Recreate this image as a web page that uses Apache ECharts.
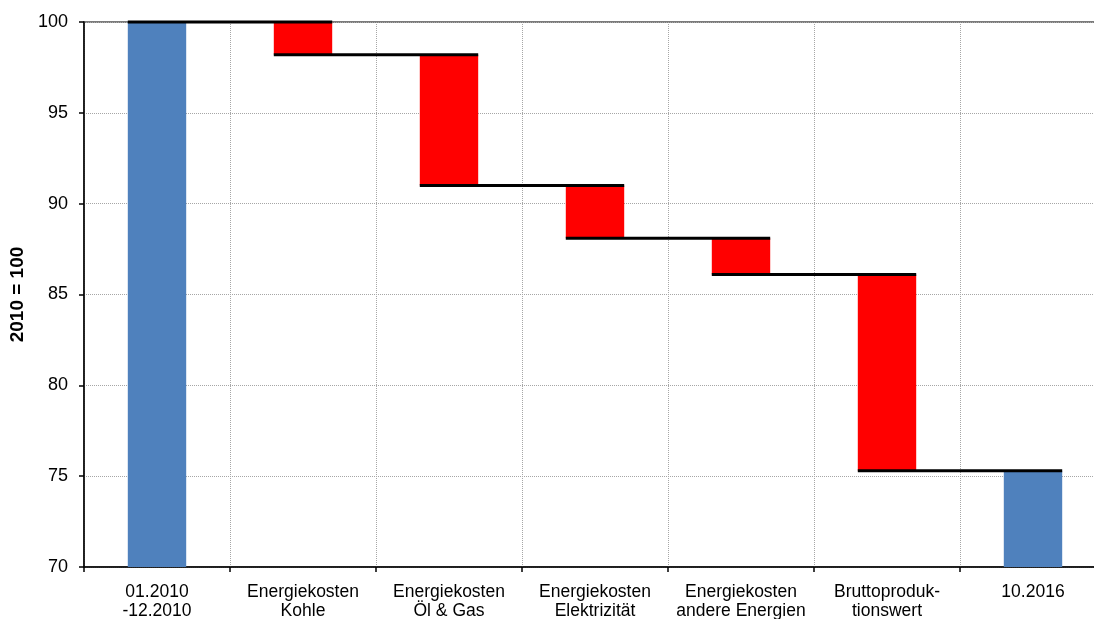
<!DOCTYPE html>
<html>
<head>
<meta charset="utf-8">
<script src="https://cdn.jsdelivr.net/npm/echarts@6/dist/echarts.min.js"></script>
<style>
  html, body { margin: 0; padding: 0; background: #fff; }
  #chart { width: 1094px; height: 619px; }
</style>
</head>
<body>
<div id="chart"></div>
<script>
// Waterfall: index 2010 = 100, contributions down to 10.2016
const categories = [
  '01.2010\n-12.2010',
  'Energiekosten\nKohle',
  'Energiekosten\nÖl & Gas',
  'Energiekosten\nElektrizität',
  'Energiekosten\nandere Energien',
  'Bruttoproduk-\ntionswert',
  '10.2016'
];
// Blue total bars (start and end index)
const totalValues = [100, null, null, null, null, null, 75.3];
// Index level after each step; step i goes from stepLevels[i-1] to stepLevels[i]
const stepLevels = [100, 98.2, 91.0, 88.1, 86.1, 75.3];
const yTicks = [70, 75, 80, 85, 90, 95, 100];

const FONT = 'Liberation Sans, Arial, sans-serif';
const BAR_RATIO = 0.4;

const totalData = totalValues.map((v, i) => (v == null ? null : [i, v]));
const stepData = [];
for (let i = 1; i < stepLevels.length; i++) {
  stepData.push([i, stepLevels[i - 1], stepLevels[i]]);
}
const connectorData = stepLevels.map((v, i) => [i, v]);

const chart = echarts.init(document.getElementById('chart'), null, { renderer: 'canvas' });

chart.setOption({
  animation: false,
  backgroundColor: '#fff',
  grid: {
    left: 84, top: 22, width: 1022, height: 545,
    outerBoundsMode: 'none',
    containLabel: false,
    show: true, borderColor: '#505050', borderWidth: 1.5
  },
  xAxis: {
    type: 'category',
    data: categories,
    boundaryGap: true,
    axisLine: { lineStyle: { color: '#000', width: 1.5 } },
    axisTick: { show: true, length: 5, lineStyle: { color: '#000', width: 1.5 } },
    axisLabel: {
      color: '#000', fontFamily: FONT, fontSize: 17.5, lineHeight: 19, margin: 15.5,
      interval: 0
    },
    splitLine: { show: true, lineStyle: { color: '#a6a6a6', type: 'dotted', width: 1 } }
  },
  yAxis: {
    type: 'value',
    min: yTicks[0], max: yTicks[yTicks.length - 1], interval: 5,
    name: '2010 = 100',
    nameLocation: 'middle',
    nameRotate: 90,
    nameGap: 54,
    nameTextStyle: { color: '#000', fontFamily: FONT, fontSize: 19, fontWeight: 'bold' },
    axisLine: { show: true, lineStyle: { color: '#000', width: 1.5 } },
    axisTick: { show: true, length: 5, lineStyle: { color: '#000', width: 1.5 } },
    axisLabel: { color: '#000', fontFamily: FONT, fontSize: 18, margin: 16 },
    splitLine: { show: true, lineStyle: { color: '#a6a6a6', type: 'dotted', width: 1 } }
  },
  series: [
    {
      name: 'Index',
      type: 'custom',
      data: totalData,
      encode: { x: 0, y: 1 },
      renderItem: function (params, api) {
        const cs = params.coordSys;
        const top = api.coord([api.value(0), api.value(1)]);
        const w = api.size([1, 0])[0] * BAR_RATIO;
        const bottom = cs.y + cs.height;
        return {
          type: 'rect',
          shape: { x: top[0] - w / 2, y: top[1], width: w, height: bottom - top[1] },
          style: { fill: '#4F81BD' },
          z2: 1
        };
      },
      z: 2
    },
    {
      name: 'Veränderung',
      type: 'custom',
      data: stepData,
      encode: { x: 0, y: [1, 2] },
      renderItem: function (params, api) {
        const a = api.coord([api.value(0), api.value(1)]);
        const b = api.coord([api.value(0), api.value(2)]);
        const w = api.size([1, 0])[0] * BAR_RATIO;
        const y0 = Math.min(a[1], b[1]);
        return {
          type: 'rect',
          shape: { x: a[0] - w / 2, y: y0, width: w, height: Math.abs(b[1] - a[1]) },
          style: { fill: '#FF0000' },
          z2: 1
        };
      },
      z: 2
    },
    {
      name: 'Verbindung',
      type: 'custom',
      data: connectorData,
      encode: { x: 0, y: 1 },
      renderItem: function (params, api) {
        const i = api.value(0);
        const p1 = api.coord([i, api.value(1)]);
        const p2 = api.coord([i + 1, api.value(1)]);
        const w = api.size([1, 0])[0] * BAR_RATIO;
        return {
          type: 'line',
          shape: { x1: p1[0] - w / 2, y1: p1[1], x2: p2[0] + w / 2, y2: p2[1] },
          style: { stroke: '#000', lineWidth: 3 }
        };
      },
      z: 5
    }
  ]
});
</script>
</body>
</html>
